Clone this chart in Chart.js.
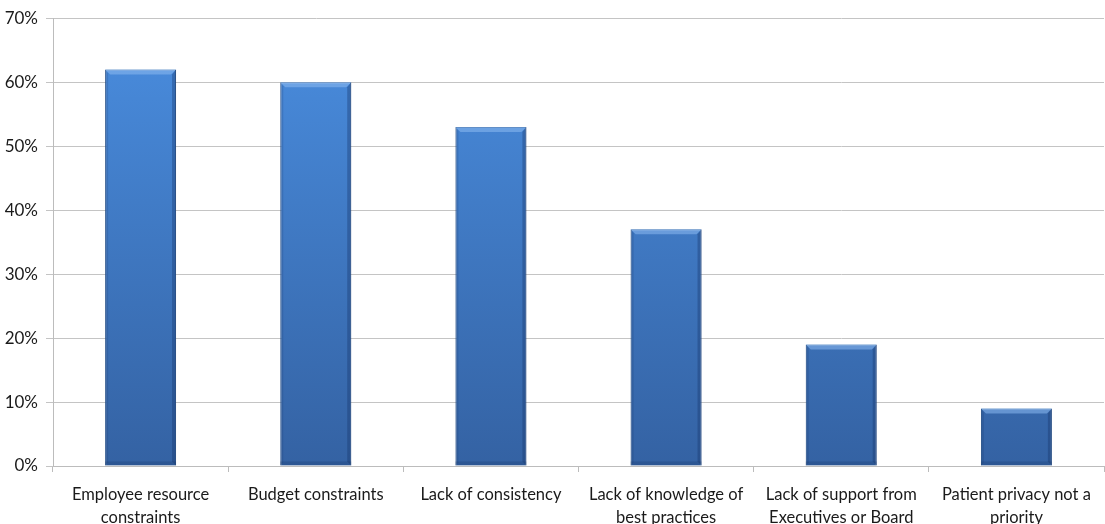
<!DOCTYPE html>
<html>
<head>
<meta charset="utf-8">
<script src="https://cdn.jsdelivr.net/npm/chart.js@4.4.0/dist/chart.umd.min.js"></script>
<style>
    html, body { margin: 0; padding: 0; background: #fff; }
    #wrap { width: 1105px; height: 524px; position: relative; }
</style>
</head>
<body>
<div id="wrap"><canvas id="barrierChart"></canvas></div>
<script>
// Categories and values
const categories = [
    ['Employee resource', 'constraints'],
    'Budget constraints',
    'Lack of consistency',
    ['Lack of knowledge of', 'best practices'],
    ['Lack of support from', 'Executives or Board'],
    ['Patient privacy not a', 'priority']
];
const percentValues = [62, 60, 53, 37, 19, 9];
const yTicks = [0, 10, 20, 30, 40, 50, 60, 70];

// Fake bevel on top/right edges of each bar
const bevelPlugin = {
    id: 'bevel',
    afterDatasetsDraw(chart) {
        const ctx = chart.ctx;
        chart.getDatasetMeta(0).data.forEach(bar => {
            const left = bar.x - bar.width / 2;
            const right = bar.x + bar.width / 2;
            const top = bar.y;
            const bottom = bar.base;
            ctx.save();
            // top highlight
            ctx.fillStyle = 'rgba(140,185,240,0.55)';
            ctx.beginPath();
            ctx.moveTo(left, top);
            ctx.lineTo(right, top);
            ctx.lineTo(right - 5, top + 5);
            ctx.lineTo(left + 5, top + 5);
            ctx.closePath();
            ctx.fill();
            // right shade
            ctx.fillStyle = 'rgba(20,50,100,0.35)';
            ctx.beginPath();
            ctx.moveTo(right, top);
            ctx.lineTo(right, bottom);
            ctx.lineTo(right - 4, bottom - 4);
            ctx.lineTo(right - 4, top + 5);
            ctx.closePath();
            ctx.fill();
            // left shade
            ctx.fillStyle = 'rgba(20,50,100,0.18)';
            ctx.beginPath();
            ctx.moveTo(left, top);
            ctx.lineTo(left, bottom);
            ctx.lineTo(left + 3, bottom - 3);
            ctx.lineTo(left + 3, top + 4);
            ctx.closePath();
            ctx.fill();
            // bottom shade
            ctx.fillStyle = 'rgba(20,50,100,0.25)';
            ctx.fillRect(left, bottom - 4, right - left, 4);
            ctx.restore();
        });
    }
};

function barGradient(context) {
    const area = context.chart.chartArea;
    if (!area) return '#3f7bc8';
    const g = context.chart.ctx.createLinearGradient(0, area.top, 0, area.bottom);
    g.addColorStop(0, '#4a8ee0');
    g.addColorStop(1, '#3462a3');
    return g;
}

document.addEventListener('DOMContentLoaded', function() {
    const ctx = document.getElementById('barrierChart').getContext('2d');
    new Chart(ctx, {
        type: 'bar',
        data: {
            labels: categories,
            datasets: [{
                data: percentValues,
                backgroundColor: barGradient,
                borderColor: '#2f5b94',
                borderWidth: 1,
                barPercentage: 1,
                categoryPercentage: 0.405
            }]
        },
        plugins: [bevelPlugin],
        options: {
            responsive: true,
            maintainAspectRatio: false,
            animation: false,
            layout: { padding: { top: 18, right: 1, left: 0, bottom: 0 } },
            plugins: {
                legend: { display: false },
                tooltip: { enabled: false }
            },
            scales: {
                x: {
                    afterFit: scale => { scale.height = 58; },
                    grid: {
                        offset: true,
                        drawOnChartArea: false,
                        drawTicks: true,
                        tickLength: 6,
                        color: '#bcbcbc'
                    },
                    border: { color: '#bcbcbc' },
                    ticks: {
                        color: '#1a1a1a',
                        font: { family: 'Lato', size: 16.5, lineHeight: 1.35 },
                        maxRotation: 0,
                        padding: 12
                    }
                },
                y: {
                    min: 0,
                    max: 70,
                    afterFit: scale => { scale.width = 53; },
                    afterBuildTicks: scale => {
                        scale.ticks = yTicks.map(v => ({ value: v }));
                    },
                    grid: {
                        color: '#c4c4c4',
                        tickLength: 7
                    },
                    border: { color: '#bcbcbc' },
                    ticks: {
                        color: '#1a1a1a',
                        font: { family: 'Lato', size: 17 },
                        padding: 8,
                        callback: value => value + '%'
                    }
                }
            }
        }
    });
});
</script>
</body>
</html>
